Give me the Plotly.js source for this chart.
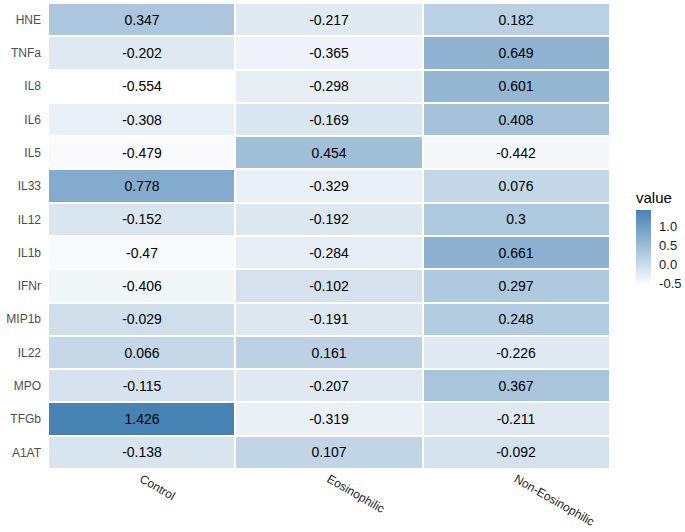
<!DOCTYPE html>
<html>
<head>
<meta charset="utf-8">
<script src="https://cdn.plot.ly/plotly-3.0.1.min.js"></script>
<style>html,body{margin:0;padding:0;background:#fff;}#chart{width:685px;height:532px;}</style>
</head>
<body>
<div id="chart"></div>
<script>
var groups = ["Control", "Eosinophilic", "Non-Eosinophilic"];
var markers = ["HNE", "TNFa", "IL8", "IL6", "IL5", "IL33", "IL12", "IL1b", "IFNr", "MIP1b", "IL22", "MPO", "TFGb", "A1AT"];
var control =      [0.347, -0.202, -0.554, -0.308, -0.479, 0.778, -0.152, -0.47, -0.406, -0.029, 0.066, -0.115, 1.426, -0.138];
var eosinophilic = [-0.217, -0.365, -0.298, -0.169, 0.454, -0.329, -0.192, -0.284, -0.102, -0.191, 0.161, -0.207, -0.319, 0.107];
var nonEos =       [0.182, 0.649, 0.601, 0.408, -0.442, 0.076, 0.3, 0.661, 0.297, 0.248, -0.226, 0.367, -0.211, -0.092];
var colorTicks = [-0.5, 0.0, 0.5, 1.0];

var z = markers.map(function(m, i){ return [control[i], eosinophilic[i], nonEos[i]]; });
var txt = z.map(function(row){ return row.map(function(v){ return String(v); }); });
var all = control.concat(eosinophilic, nonEos);
var zmin = Math.min.apply(null, all), zmax = Math.max.apply(null, all);

var PL = 48, PR = 610, PT = 3, PB = 469;
function px2paperX(px){ return (px - PL) / (PR - PL); }
function px2paperY(py){ return (PB - py) / (PB - PT); }

var trace = {
  type: 'heatmap',
  x: groups,
  y: markers,
  z: z,
  text: txt,
  zmin: zmin, zmax: zmax,
  colorscale: [[0, '#ffffff'], [1, '#4682b4']],
  xgap: 2, ygap: 2,
  texttemplate: '%{text}',
  textfont: {family: 'Liberation Sans, Arial, sans-serif', size: 14, color: '#000000'},
  hoverinfo: 'none',
  colorbar: {
    x: px2paperX(636), xanchor: 'left', xref: 'paper',
    y: px2paperY(248), yanchor: 'middle', yref: 'paper',
    len: 76, lenmode: 'pixels',
    thickness: 15, thicknessmode: 'pixels',
    outlinewidth: 0,
    tickvals: colorTicks,
    ticktext: colorTicks.map(function(v){ return v.toFixed(1); }),
    ticks: 'outside', ticklen: 6, tickcolor: 'rgba(0,0,0,0)',
    tickfont: {size: 13, color: '#1a1a1a', family: 'Liberation Sans, Arial, sans-serif'},
    xpad: 0, ypad: 0
  }
};

var layout = {
  width: 685, height: 532,
  margin: {l: PL, r: 685 - PR, t: PT, b: 532 - PB},
  paper_bgcolor: '#ffffff', plot_bgcolor: '#ffffff',
  font: {family: 'Liberation Sans, Arial, sans-serif'},
  xaxis: {
    type: 'category', showgrid: false, zeroline: false, showline: false,
    ticks: '', tickangle: 30,
    tickfont: {size: 12, color: '#1a1a1a'}
  },
  yaxis: {
    type: 'category', autorange: 'reversed', showgrid: false, zeroline: false, showline: false,
    ticks: '', ticklabelstandoff: 6,
    tickfont: {size: 12, color: '#4d4d4d'}
  },
  annotations: [{
    text: 'value', xref: 'paper', yref: 'paper',
    x: px2paperX(634), xanchor: 'left',
    y: px2paperY(197), yanchor: 'middle',
    showarrow: false,
    font: {size: 15, color: '#000', family: 'Liberation Sans, Arial, sans-serif'}
  }]
};

Plotly.newPlot('chart', [trace], layout, {displayModeBar: false, staticPlot: true});
</script>
</body>
</html>
